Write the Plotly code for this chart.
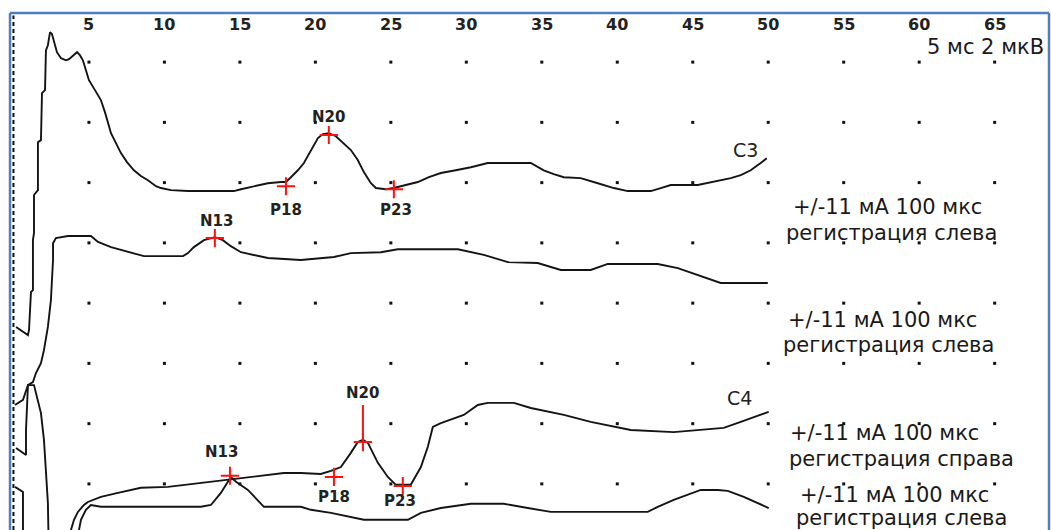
import plotly.graph_objects as go

# Somatosensory evoked potentials, median nerve stimulation.
# Time in ms after the stimulus, amplitude in µV on one shared display axis
# (each grid row is 2 µV, each grid column 5 ms).

tick_ms = [5, 10, 15, 20, 25, 30, 35, 40, 45, 50, 55, 60, 65]
grid_rows_uv = [0, 2, 4, 6, 8, 10, 12, 14]

# C3, stimulation +/-11 mA 100 µs, recording left
c3_t = [0.17, 0.96, 1.03, 1.16, 1.29, 1.29, 1.36, 1.36, 1.62, 1.62, 1.82, 1.89, 2.09, 2.15,
        2.28, 2.42, 2.55, 2.68, 2.88, 3.15, 3.48, 3.68, 3.94, 4.21, 4.40, 4.60, 4.80, 5.00,
        5.40, 5.79, 6.06, 6.26, 6.46, 6.79, 7.12, 7.52, 7.98, 8.44, 8.91, 9.44, 9.77, 10.43,
        11.56, 13.08, 14.60, 15.07, 15.73, 16.85, 17.72, 18.05, 18.38, 18.84, 19.24, 19.70,
        20.17, 20.50, 20.89, 21.36, 21.89, 22.35, 22.81, 23.21, 23.68, 24.01, 24.67, 25.20,
        25.99, 26.79, 27.52, 28.31, 29.30, 30.30, 31.42, 32.95, 34.27, 35.13, 35.79, 36.46,
        37.58, 38.71, 39.77, 40.70, 42.22, 42.88, 43.54, 45.33, 46.39, 47.52, 48.18, 48.84,
        49.50, 49.90]
c3_uv = [5.21, 4.94, 5.11, 6.37, 6.43, 8.09, 8.33, 9.59, 9.75, 11.34, 11.41, 12.97, 13.07, 14.39,
         14.56, 14.99, 14.93, 14.66, 14.33, 14.13, 14.06, 14.10, 14.23, 14.33, 14.23, 14.06,
         13.73, 13.40, 13.07, 12.74, 12.34, 11.97, 11.64, 11.31, 10.98, 10.68, 10.41, 10.22,
         10.08, 9.88, 9.82, 9.75, 9.72, 9.72, 9.72, 9.78, 9.85, 9.98, 10.02, 10.02, 10.18,
         10.41, 10.65, 11.08, 11.48, 11.61, 11.64, 11.54, 11.31, 11.08, 10.75, 10.35, 9.98,
         9.82, 9.78, 9.82, 9.92, 10.02, 10.18, 10.32, 10.41, 10.51, 10.65, 10.65, 10.65, 10.41,
         10.28, 10.18, 10.15, 9.98, 9.82, 9.72, 9.72, 9.82, 9.92, 9.92, 10.02, 10.15, 10.25,
         10.41, 10.65, 10.81]

# cervical lead, recording left
cv_t = [0.17, 0.83, 0.83, 0.96, 1.29, 1.49, 1.82, 2.02, 2.28, 2.48, 2.62, 2.62, 2.81, 3.61,
        5.13, 5.60, 6.46, 7.98, 8.64, 11.23, 11.56, 11.95, 12.62, 13.34, 13.87, 14.40, 15.07,
        16.85, 19.04, 21.23, 22.35, 24.34, 25.46, 29.44, 31.16, 32.75, 34.73, 36.26, 38.24,
        39.37, 42.68, 44.01, 45.33, 46.85, 49.97]
cv_uv = [1.19, 0.96, 1.79, 3.28, 3.38, 3.68, 4.01, 4.44, 5.21, 6.10, 7.43, 7.99, 8.16, 8.23,
         8.23, 8.03, 7.86, 7.66, 7.56, 7.56, 7.66, 7.86, 8.09, 8.19, 8.09, 7.89, 7.69, 7.50,
         7.43, 7.53, 7.66, 7.69, 7.79, 7.79, 7.60, 7.36, 7.33, 7.10, 7.10, 7.30, 7.30, 7.16,
         6.93, 6.67, 6.67]

# C4, recording right
c4_t = [0.10, 0.63, 0.63, 3.68, 3.81, 4.01, 4.27, 4.67, 4.93, 5.79, 6.92, 8.44, 10.23, 12.42,
        14.40, 15.93, 17.91, 19.04, 20.36, 21.03, 21.69, 22.35, 22.81, 23.15, 23.48, 24.14,
        24.80, 25.33, 26.32, 26.99, 27.45, 27.78, 28.31, 29.83, 30.76, 31.42, 33.15, 34.27,
        36.46, 38.24, 39.77, 40.89, 43.74, 45.33, 47.05, 48.18, 49.50, 50.03]
c4_uv = [-0.10, -0.27, -2.52, -2.52, -1.53, -1.19, -0.93, -0.70, -0.60, -0.43, -0.30, -0.13,
         -0.10, 0.03, 0.13, 0.23, 0.36, 0.36, 0.33, 0.43, 0.56, 1.03, 1.39, 1.46, 1.36, 0.70,
         0.23, -0.03, -0.03, 0.56, 1.23, 1.89, 2.02, 2.29, 2.62, 2.69, 2.69, 2.52, 2.29, 2.06,
         1.89, 1.79, 1.72, 1.79, 1.86, 2.06, 2.29, 2.39]

# second cervical lead, recording left
cl_t = [0.10, 0.63, 0.96, 1.36, 1.82, 1.95, 2.02, 2.28, 2.35, 4.21, 4.34, 4.47, 4.80, 5.13,
        5.79, 12.42, 13.08, 13.74, 14.40, 14.74, 15.53, 16.59, 19.04, 19.70, 21.03, 23.21,
        26.13, 26.99, 28.31, 30.30, 32.48, 34.07, 35.60, 42.02, 42.68, 43.74, 45.53, 46.65,
        47.32, 48.38, 50.03]
cl_uv = [2.62, 2.79, 3.28, 3.28, 2.35, 1.79, 1.46, -0.63, -2.52, -2.52, -1.53, -1.19, -0.86,
         -0.70, -0.76, -0.76, -0.70, -0.30, 0.23, 0.07, -0.20, -0.76, -0.76, -0.86, -0.96,
         -1.19, -1.19, -0.96, -0.80, -0.66, -0.66, -0.80, -0.93, -0.93, -0.76, -0.53, -0.20,
         -0.20, -0.23, -0.43, -0.80]

# labelled peaks
peak_names = ["P18", "N20", "P23", "N13", "N13", "P18", "N20", "P23"]
peak_t = [18.05, 20.89, 25.20, 13.34, 14.34, 21.23, 23.15, 25.79]
peak_uv = [9.88, 11.58, 9.78, 8.16, 0.27, 0.23, 1.39, -0.07]
n20_stem_uv = 1.23  # marker stem above the C4 N20 peak

channel_names = ["C3", "C4"]
channel_label_t = [48.48, 48.08]
channel_label_uv = [11.08, 2.85]

stim_lines = ["+/-11 мА 100 мкс", "регистрация слева",
              "+/-11 мА 100 мкс", "регистрация слева",
              "+/-11 мА 100 мкс", "регистрация справа",
              "+/-11 мА 100 мкс", "регистрация слева"]
stim_t = [57.87, 58.14, 57.54, 58.00, 57.68, 58.80, 58.34, 58.80]
stim_uv = [9.19, 8.33, 5.44, 4.61, 1.69, 0.83, -0.36, -1.12]

scale_text = "5 мс 2 мкВ"

TRACE = "#141414"
RED = "#ff1010"
BORDER = "#4f7fbf"
TEXT_FONT = "DejaVu Sans"

fig = go.Figure()

# grid dots
gx = [t for _ in grid_rows_uv for t in tick_ms]
gy = [v for v in grid_rows_uv for _ in tick_ms]
fig.add_trace(go.Scatter(x=gx, y=gy, mode="markers",
                         marker=dict(symbol="square", size=3, color="#111"),
                         hoverinfo="skip"))

for tx, ty in [(c3_t, c3_uv), (cv_t, cv_uv), (c4_t, c4_uv), (cl_t, cl_uv)]:
    fig.add_trace(go.Scatter(x=tx, y=ty, mode="lines",
                             line=dict(color=TRACE, width=1.9), hoverinfo="skip"))

# stem over C4 N20
fig.add_trace(go.Scatter(x=[peak_t[6], peak_t[6]],
                         y=[peak_uv[6], peak_uv[6] + n20_stem_uv],
                         mode="lines", line=dict(color=RED, width=2), hoverinfo="skip"))

fig.add_trace(go.Scatter(x=peak_t, y=peak_uv, mode="markers",
                         marker=dict(symbol="cross-thin", size=13,
                                     line=dict(color=RED, width=2)),
                         hoverinfo="skip"))

ann = []
# time scale along the top
for t in tick_ms:
    ann.append(dict(x=t, y=15.26, text=str(t), showarrow=False,
                    font=dict(family=TEXT_FONT, size=16, color="#222", weight="bold"),
                    xanchor="center", yanchor="middle"))

# peak labels: offsets (px) from their marker
label_dx = [0, 0, 2, 2, -8, 0, 0, -3]
label_dy = [-24, 18, -21, 17, 24, -20, 49, -15]
for name, t, v, dx, dy in zip(peak_names, peak_t, peak_uv, label_dx, label_dy):
    ann.append(dict(x=t, y=v, text=name, showarrow=False, xshift=dx, yshift=dy,
                    font=dict(family=TEXT_FONT, size=15, color="#222", weight="bold"),
                    xanchor="center", yanchor="middle"))

for name, t, v in zip(channel_names, channel_label_t, channel_label_uv):
    ann.append(dict(x=t, y=v, text=name, showarrow=False,
                    font=dict(family=TEXT_FONT, size=19, color="#222"),
                    xanchor="center", yanchor="middle"))

for txt, t, v in zip(stim_lines, stim_t, stim_uv):
    ann.append(dict(x=t, y=v, text=txt, showarrow=False,
                    font=dict(family=TEXT_FONT, size=21, color="#1a1a1a"),
                    xanchor="center", yanchor="middle"))

ann.append(dict(x=68.40, y=14.50, text=scale_text, showarrow=False,
                font=dict(family=TEXT_FONT, size=21, color="#1a1a1a"),
                xanchor="right", yanchor="middle"))

shapes = [
    # stimulus onset
    dict(type="line", xref="x", yref="paper", x0=0, x1=0, y0=0, y1=0.995,
         line=dict(color="#111", width=2, dash="4px,3px")),
    # frame
    dict(type="line", xref="paper", yref="paper", x0=0, x1=0, y0=0, y1=1,
         line=dict(color=BORDER, width=2.5)),
    dict(type="line", xref="paper", yref="paper", x0=0, x1=1, y0=1, y1=1,
         line=dict(color=BORDER, width=2.5)),
    dict(type="line", xref="paper", yref="paper", x0=1, x1=1, y0=0, y1=1,
         line=dict(color=BORDER, width=2.5)),
]

fig.update_layout(
    width=1051, height=530,
    margin=dict(l=10, r=2, t=13, b=0),
    paper_bgcolor="white", plot_bgcolor="white",
    showlegend=False,
    xaxis=dict(range=[-0.23, 68.6], visible=False, fixedrange=True),
    yaxis=dict(range=[-1.53, 15.63], visible=False, fixedrange=True),
    annotations=ann, shapes=shapes,
)

fig.write_html("out.html")
